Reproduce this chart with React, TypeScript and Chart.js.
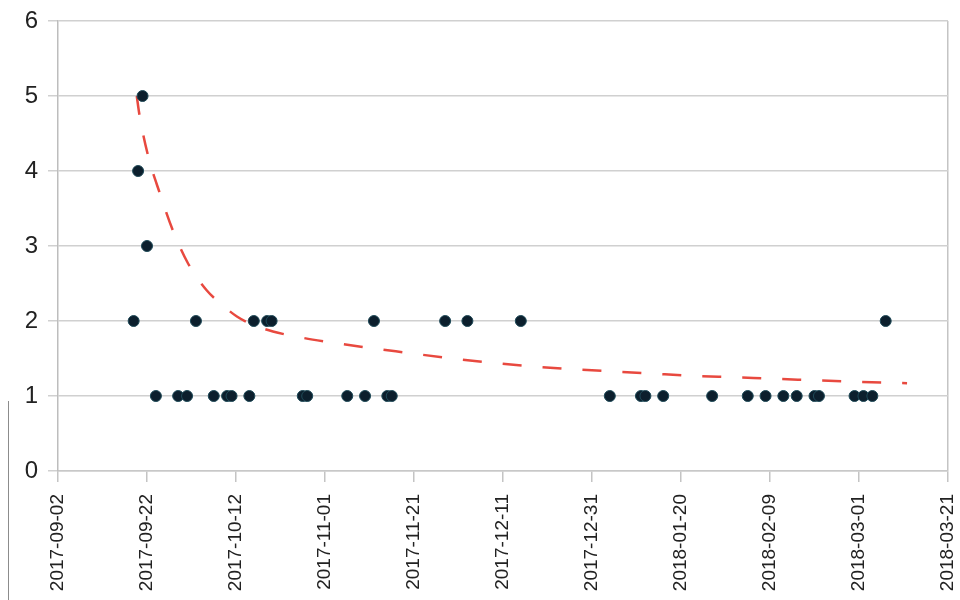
import React, { useEffect, useRef } from "react";
import { Chart, registerables } from "chart.js";

Chart.register(...registerables);

// Start of the x axis (day 0) and axis end (day 200), ticks every 20 days
const axisStart = "2017-09-02";
const axisEnd = "2018-03-21";
const tickStepDays = 20;

const yTicks = [0, 1, 2, 3, 4, 5, 6];

const pointDates = [
  "2017-09-19", "2017-09-20", "2017-09-21", "2017-09-22", "2017-09-24",
  "2017-09-29", "2017-10-01", "2017-10-03", "2017-10-07", "2017-10-10",
  "2017-10-11", "2017-10-15", "2017-10-16", "2017-10-19", "2017-10-20",
  "2017-10-27", "2017-10-28", "2017-11-06", "2017-11-10", "2017-11-12",
  "2017-11-15", "2017-11-16", "2017-11-28", "2017-12-03", "2017-12-15",
  "2018-01-04", "2018-01-11", "2018-01-12", "2018-01-16", "2018-01-27",
  "2018-02-04", "2018-02-08", "2018-02-12", "2018-02-15", "2018-02-19",
  "2018-02-20", "2018-02-28", "2018-03-02", "2018-03-04", "2018-03-07",
];
const pointValues = [
  2, 4, 5, 3, 1,
  1, 1, 2, 1, 1,
  1, 1, 2, 2, 2,
  1, 1, 1, 1, 2,
  1, 1, 2, 2, 2,
  1, 1, 1, 1, 1,
  1, 1, 1, 1, 1,
  1, 1, 1, 1, 2,
];

// Trend line samples (days after axisStart, value)
const trendDays = [
  17.7, 18.3, 20.3, 22.9, 25.8, 29.2, 33.4, 36.4, 40.2, 43.8, 48.3, 52.8,
  59.6, 69, 78, 87.2, 96.4, 105.4, 114.8, 124, 133.3, 142.5, 151.7, 160.7,
  170.1, 179.3, 190.8,
];
const trendValues = [
  5.0, 4.75, 4.19, 3.7, 3.21, 2.77, 2.41, 2.24, 2.06, 1.95, 1.86, 1.8,
  1.73, 1.65, 1.58, 1.51, 1.45, 1.4, 1.36, 1.33, 1.3, 1.27, 1.25, 1.23,
  1.21, 1.19, 1.17,
];

const DAY = 86400000;
const toUTC = (s: string) => {
  const [y, m, d] = s.split("-").map(Number);
  return Date.UTC(y, m - 1, d);
};
const startMs = toUTC(axisStart);
const dayOf = (s: string) => Math.round((toUTC(s) - startMs) / DAY);
const fmt = (v: number) => new Date(startMs + v * DAY).toISOString().slice(0, 10);

export default function App() {
  const ref = useRef<HTMLCanvasElement | null>(null);

  useEffect(() => {
    if (!ref.current) return;
    const maxDay = dayOf(axisEnd);
    const chart = new Chart(ref.current, {
      type: "scatter",
      data: {
        datasets: [
          {
            label: "values",
            data: pointDates.map((d, i) => ({ x: dayOf(d), y: pointValues[i] })),
            backgroundColor: "#0c1f2d",
            borderColor: "#1f4a58",
            borderWidth: 1,
            pointRadius: 5.5,
            pointHoverRadius: 5.5,
            order: 0,
          },
          {
            type: "line",
            label: "trend",
            data: trendDays.map((d, i) => ({ x: d, y: trendValues[i] })),
            borderColor: "#e8493f",
            borderWidth: 2.5,
            borderDash: [19, 21],
            pointRadius: 0,
            showLine: true,
            fill: false,
            cubicInterpolationMode: "monotone",
            order: 1,
          } as any,
        ],
      },
      options: {
        responsive: false,
        devicePixelRatio: 1,
        animation: false,
        events: [],
        layout: { padding: { top: 21, right: 12, left: 0, bottom: 0 } },
        plugins: { legend: { display: false }, tooltip: { enabled: false } },
        scales: {
          x: {
            type: "linear",
            min: 0,
            max: maxDay,
            afterFit: (s: any) => {
              s.height = 129;
              s.paddingLeft = 0;
              s.paddingRight = 0;
            },
            afterBuildTicks: (s: any) => {
              const t = [];
              for (let v = 0; v <= maxDay; v += tickStepDays) t.push({ value: v });
              s.ticks = t;
            },
            ticks: {
              autoSkip: false,
              minRotation: 90,
              maxRotation: 90,
              padding: 12,
              color: "#222222",
              font: { family: "'Liberation Sans', Arial, sans-serif", size: 19 },
              callback: (v: any) => fmt(Number(v)),
            },
            grid: {
              drawOnChartArea: true,
              color: (ctx: any) =>
                ctx.tick && ctx.tick.value === maxDay ? "#c4c4c4" : "rgba(0,0,0,0)",
              lineWidth: 1.5,
              tickColor: "#c4c4c4",
              tickLength: 11,
            },
            border: { display: true, color: "#c8c8c8", width: 1.5 },
          },
          y: {
            type: "linear",
            min: yTicks[0],
            max: yTicks[yTicks.length - 1],
            afterFit: (s: any) => {
              s.width = 58;
              s.paddingTop = 0;
              s.paddingBottom = 0;
            },
            ticks: {
              stepSize: 1,
              padding: 10,
              color: "#222222",
              font: { family: "'Liberation Sans', Arial, sans-serif", size: 24 },
            },
            grid: {
              color: "#d0d0d0",
              lineWidth: 1.5,
              tickColor: "#d0d0d0",
              tickLength: 10,
            },
            border: { display: true, color: "#bdbdbd", width: 1.5 },
          },
        },
      },
    });
    return () => chart.destroy();
  }, []);

  return (
    <div style={{ position: "absolute", left: 0, top: 0, width: 960, height: 600, background: "#ffffff" }}>
      <canvas ref={ref} width={960} height={600} style={{ display: "block", width: 960, height: 600 }} />
      <div style={{ position: "absolute", left: 8, top: 401, width: 1, height: 199, background: "#8c8c8c" }} />
    </div>
  );
}
